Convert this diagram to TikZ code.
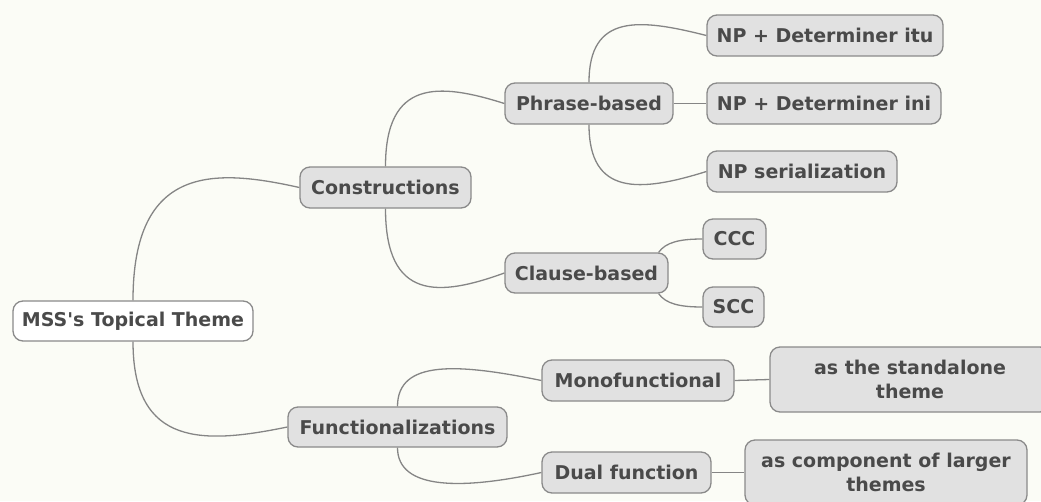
\documentclass[tikz,border=0pt]{standalone}
\usepackage{fontspec}
\newfontfamily\mmfont{DejaVu Sans}
\definecolor{bgcol}{HTML}{FBFCF6}
\definecolor{boxfill}{HTML}{E1E1E1}
\definecolor{boxline}{HTML}{8A8A8A}
\definecolor{linkcol}{HTML}{858585}
\definecolor{txtcol}{HTML}{4A4A4A}
\begin{document}
\begin{tikzpicture}[x=1pt,y=-1pt,
  topic/.style={draw=boxline, line width=1.3pt, fill=boxfill, rounded corners=10pt,
    inner sep=0pt, align=center, text=txtcol,
    font=\mmfont\bfseries\fontsize{19}{24}\selectfont},
  roottopic/.style={topic, fill=white},
  link/.style={draw=linkcol, line width=1.3pt}]
\useasboundingbox (0,0) rectangle (1041,501);
\fill[bgcol] (0,0) rectangle (1041,501);

\node[roottopic, minimum width=240pt, minimum height=40pt] (root) at (133,321) {MSS's Topical Theme};
\node[topic, minimum width=171pt, minimum height=41pt] (cons) at (385.5,187.5) {Constructions};
\node[topic, minimum width=219pt, minimum height=40pt] (func) at (397.5,427) {Functionalizations};
\node[topic, minimum width=168pt, minimum height=41pt] (pb) at (589,103.5) {Phrase-based};
\node[topic, minimum width=163pt, minimum height=40pt] (cb) at (586.5,273) {Clause-based};
\node[topic, minimum width=236pt, minimum height=41pt] (itu) at (825,35.5) {NP + Determiner itu};
\node[topic, minimum width=234pt, minimum height=41pt] (ini) at (824,103.5) {NP + Determiner ini};
\node[topic, minimum width=190pt, minimum height=41pt] (ser) at (802,171.5) {NP serialization};
\node[topic, minimum width=63pt, minimum height=40pt] (ccc) at (734.5,239) {CCC};
\node[topic, minimum width=61pt, minimum height=40pt] (scc) at (733.5,307) {SCC};
\node[topic, minimum width=192pt, minimum height=41pt] (mono) at (638,380.5) {Monofunctional};
\node[topic, minimum width=280pt, minimum height=65pt] (stand) at (910,379.5) {as the standalone\\theme};
\node[topic, minimum width=169pt, minimum height=41pt] (dual) at (626.5,472.5) {Dual function};
\node[topic, minimum width=282pt, minimum height=65pt] (comp) at (886,472.5) {as component of larger\\themes};

\path[link] (root.north) .. controls +(0,-136) and +(-85,-19) .. (cons.west);
\path[link] (root.south) .. controls +(0,106) and +(-83,17) .. (func.west);
\path[link] (cons.north) .. controls +(0,-87) and +(-66,-21) .. (pb.west);
\path[link] (cons.south) .. controls +(0,92) and +(-66,24) .. (cb.west);
\path[link] (func.north) .. controls +(0,-47) and +(-83,-17) .. (mono.west);
\path[link] (func.south) .. controls +(0,43) and +(-78,17) .. (dual.west);
\path[link] (pb.north) .. controls +(0,-69) and +(-67,-17) .. (itu.west);
\path[link] (pb.east) -- (ini.west);
\path[link] (pb.south) .. controls +(0,71) and +(-67,21) .. (ser.west);
\path[link] ([xshift=-10pt]cb.north east) .. controls +(7,-10) and +(-23,0) .. (ccc.west);
\path[link] ([xshift=-10pt]cb.south east) .. controls +(7,10) and +(-23,0) .. (scc.west);
\path[link] (mono.east) -- (stand.west);
\path[link] (dual.east) -- (comp.west);
\end{tikzpicture}
\end{document}
